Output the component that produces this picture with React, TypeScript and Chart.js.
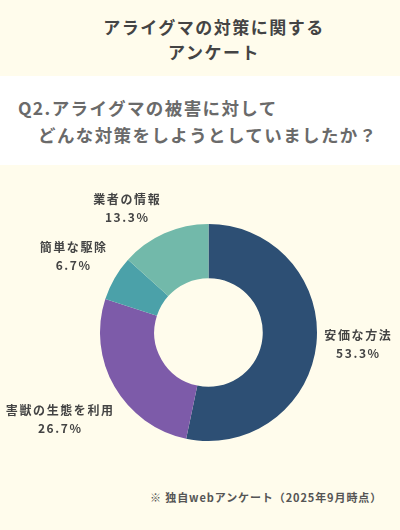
import React, { useEffect, useRef } from 'react';
import { Chart, registerables } from 'chart.js';

Chart.register(...registerables);

const labels = ['安価な方法', '害獣の生態を利用', '簡単な駆除', '業者の情報'];
const values = [53.3, 26.7, 6.7, 13.3];
const colors = ['#2D4F74', '#7D5BA9', '#4BA1A9', '#72B9AA'];

const CREAM = '#FFFCEC';
const FONT = '"Noto Sans CJK JP", "Noto Sans", sans-serif';

// draws the name + percent next to each slice
const outsideLabels = {
    id: 'outsideLabels',
    afterDatasetsDraw(chart) {
        const { ctx } = chart;
        const meta = chart.getDatasetMeta(0);
        ctx.save();
        ctx.font = `bold 12px ${FONT}`;
        ctx.letterSpacing = '1.6px';
        ctx.fillStyle = '#444444';
        ctx.textBaseline = 'middle';
        const lineH = 17.5;
        meta.data.forEach((arc, i) => {
            const { x, y, startAngle, endAngle, outerRadius } = arc.getProps(
                ['x', 'y', 'startAngle', 'endAngle', 'outerRadius'], true);
            const mid = (startAngle + endAngle) / 2;
            const dx = Math.cos(mid);
            const dy = Math.sin(mid);
            const ax = x + (outerRadius + 8) * dx;
            const ay = y + (outerRadius + 8) * dy;
            const lines = [labels[i], `${values[i].toFixed(1)}%`];
            const w = Math.max(...lines.map(t => ctx.measureText(t).width));
            const h = lineH * lines.length;
            let cx = dx > 0.05 ? ax + w / 2 : dx < -0.05 ? ax - w / 2 : ax;
            let top;
            if (Math.abs(dy) < 0.3) top = ay - h / 2;
            else if (dy > 0) { top = ay + 11; cx += 7; }
            else top = ay - h;
            ctx.textAlign = 'center';
            lines.forEach((t, j) => {
                ctx.fillText(t, cx, top + lineH * j + lineH / 2);
            });
        });
        ctx.restore();
    }
};

const DonutChart = () => {
    const chartRef = useRef(null);
    const chartInstanceRef = useRef(null);

    useEffect(() => {
        if (!chartRef.current) return;
        const ctx = chartRef.current.getContext('2d');
        if (!ctx) return;

        chartInstanceRef.current = new Chart(ctx, {
            type: 'doughnut',
            data: {
                labels: labels,
                datasets: [{
                    data: values,
                    backgroundColor: colors,
                    borderWidth: 0,
                }]
            },
            options: {
                animation: false,
                responsive: true,
                maintainAspectRatio: false,
                cutout: '50%',
                layout: { padding: { top: 44, bottom: 9, left: 100, right: 83 } },
                plugins: {
                    legend: { display: false },
                    tooltip: { enabled: false },
                }
            },
            plugins: [outsideLabels]
        });

        return () => {
            if (chartInstanceRef.current) {
                chartInstanceRef.current.destroy();
                chartInstanceRef.current = null;
            }
        };
    }, []);

    return <div style={{ position: 'absolute', left: 0, top: 180, width: 400, height: 270 }}>
        <canvas ref={chartRef} />
    </div>;
};

export default function App() {
    useEffect(() => {
        document.body.style.margin = '0';
    }, []);

    return (
        <div style={{ position: 'relative', width: 400, height: 530, background: CREAM, fontFamily: FONT, overflow: 'hidden' }}>
            <div style={{
                position: 'absolute', top: 14, left: 14, width: 400, textAlign: 'center',
                fontSize: 17, fontWeight: 'bold', color: '#444444', lineHeight: '25px', letterSpacing: '1.5px'
            }}>
                アライグマの対策に関する<br />アンケート
            </div>
            <div style={{ position: 'absolute', top: 76, left: 0, width: 400, height: 89, background: '#FFFFFF' }}>
                <div style={{
                    position: 'absolute', top: 18, left: 18, fontSize: 17.5, fontWeight: 'bold',
                    color: '#6A6A6A', lineHeight: '27px', letterSpacing: '1.4px', whiteSpace: 'nowrap'
                }}>
                    Q2.アライグマの被害に対して<br />
                    <span style={{ paddingLeft: 20 }}>どんな対策をしようとしていましたか？</span>
                </div>
            </div>
            <DonutChart />
            <div style={{
                position: 'absolute', top: 489, left: 150, fontSize: 11, fontWeight: 'bold',
                color: '#555555', letterSpacing: '0.9px', whiteSpace: 'nowrap'
            }}>
                ※ 独自webアンケート（2025年9月時点）
            </div>
        </div>
    );
}
